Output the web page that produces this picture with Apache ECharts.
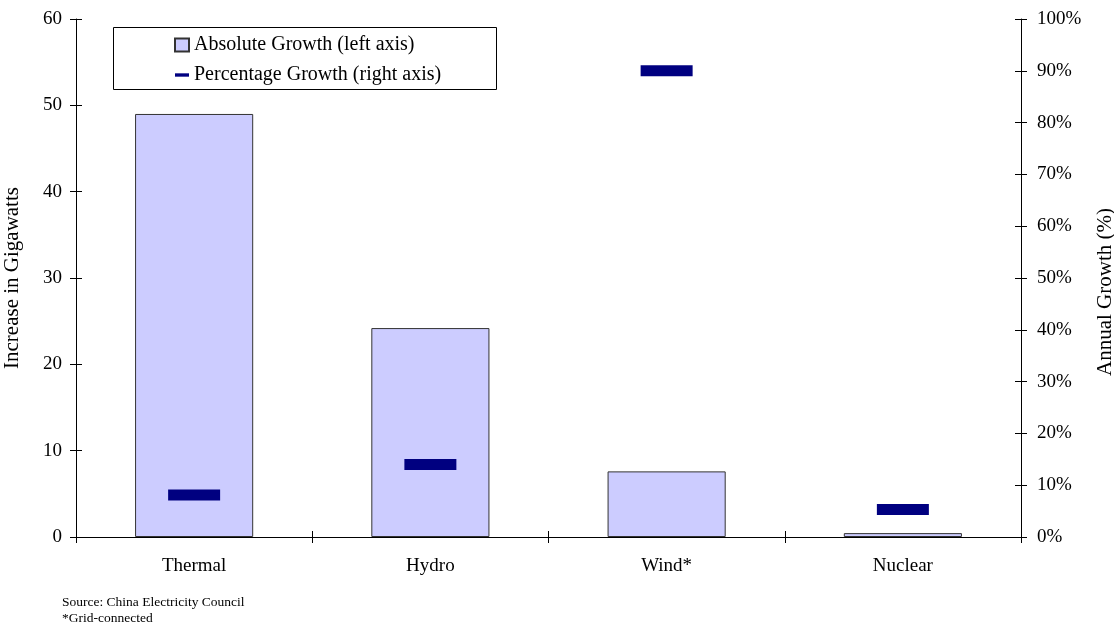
<!DOCTYPE html>
<html>
<head>
<meta charset="utf-8">
<script src="https://cdn.jsdelivr.net/npm/echarts@6/dist/echarts.min.js"></script>
<style>html,body{margin:0;padding:0;background:#fff;}#c{width:1114px;height:624px;}</style>
</head>
<body>
<div id="c"></div>
<script>
const categories = ['Thermal', 'Hydro', 'Wind*', 'Nuclear'];
const absoluteGrowth = [49.0, 24.2, 7.6, 0.45];
const percentageGrowth = [8.1, 14.0, 90.0, 5.3];
const leftTicks = { min: 0, max: 60, interval: 10 };
const rightTicks = { min: 0, max: 100, interval: 10 };
const seriesNames = ['Absolute Growth (left axis)', 'Percentage Growth (right axis)'];
const leftAxisTitle = 'Increase in Gigawatts';
const rightAxisTitle = 'Annual Growth (%)';
const notes = ['Source: China Electricity Council', '*Grid-connected'];

const FONT = '"Liberation Serif", "Times New Roman", serif';
const gridBox = { left: 76, right: 93, top: 19, bottom: 87, outerBoundsMode: 'none', containLabel: false };

const chart = echarts.init(document.getElementById('c'), null, { renderer: 'canvas' });
const axisLineStyle = { show: true, lineStyle: { color: '#000', width: 1 } };
const labelStyle = { color: '#000', fontFamily: FONT, fontSize: 19 };

chart.setOption({
  animation: false,
  backgroundColor: '#fff',
  textStyle: { fontFamily: FONT },
  grid: [Object.assign({}, gridBox), Object.assign({}, gridBox)],
  legend: {
    orient: 'vertical',
    left: 174,
    top: 35,
    padding: 0,
    itemGap: 10,
    itemWidth: 14,
    itemHeight: 13,
    textStyle: { color: '#000', fontFamily: FONT, fontSize: 20, lineHeight: 20 },
    data: [
      { name: seriesNames[0], icon: 'rect' },
      { name: seriesNames[1], icon: 'path://M0,0H15V3.6H0Z' }
    ]
  },
  xAxis: [
    {
      type: 'category', gridIndex: 0, data: categories, position: 'bottom',
      boundaryGap: true,
      axisLine: axisLineStyle,
      axisTick: { show: true, inside: false, length: 6, lineStyle: { color: '#000' } },
      axisLabel: Object.assign({ margin: 20 }, labelStyle),
      splitLine: { show: false }
    },
    {
      type: 'category', gridIndex: 1, data: categories, position: 'bottom',
      boundaryGap: true,
      axisLine: { show: false },
      axisTick: { show: true, inside: true, length: 6, lineStyle: { color: '#000' } },
      axisLabel: { show: false },
      splitLine: { show: false }
    }
  ],
  yAxis: [
    {
      type: 'value', gridIndex: 0, position: 'left',
      min: leftTicks.min, max: leftTicks.max, interval: leftTicks.interval,
      name: leftAxisTitle, nameLocation: 'middle', nameGap: 53,
      nameTextStyle: { color: '#000', fontFamily: FONT, fontSize: 21 },
      axisLine: axisLineStyle,
      axisTick: { show: true, inside: false, length: 6, lineStyle: { color: '#000' } },
      axisLabel: Object.assign({ margin: 14 }, labelStyle),
      splitLine: { show: false }
    },
    {
      type: 'value', gridIndex: 0, position: 'right',
      min: rightTicks.min, max: rightTicks.max, interval: rightTicks.interval,
      name: rightAxisTitle, nameLocation: 'middle', nameGap: 74, nameRotate: 90,
      nameTextStyle: { color: '#000', fontFamily: FONT, fontSize: 21, padding: [0, 28, 0, 0] },
      axisLine: axisLineStyle,
      axisTick: { show: true, inside: false, length: 6, lineStyle: { color: '#000' } },
      axisLabel: Object.assign({ margin: 16, formatter: '{value}%' }, labelStyle),
      splitLine: { show: false }
    },
    {
      type: 'value', gridIndex: 1, position: 'left',
      min: leftTicks.min, max: leftTicks.max, interval: leftTicks.interval,
      axisLine: { show: false },
      axisTick: { show: true, inside: true, length: 6, lineStyle: { color: '#000' } },
      axisLabel: { show: false }, splitLine: { show: false }
    },
    {
      type: 'value', gridIndex: 1, position: 'right',
      min: rightTicks.min, max: rightTicks.max, interval: rightTicks.interval,
      axisLine: { show: false },
      axisTick: { show: true, inside: true, length: 6, lineStyle: { color: '#000' } },
      axisLabel: { show: false }, splitLine: { show: false }
    }
  ],
  series: [
    {
      name: seriesNames[0], type: 'bar', xAxisIndex: 0, yAxisIndex: 0,
      data: absoluteGrowth, barWidth: '50%',
      itemStyle: { color: '#CCCCFF', borderColor: '#333333', borderWidth: 1 },
      z: 2
    },
    {
      name: seriesNames[1], type: 'scatter', xAxisIndex: 0, yAxisIndex: 1,
      data: percentageGrowth, symbol: 'rect', symbolSize: [52, 11],
      itemStyle: { color: '#000080', opacity: 1 },
      z: 3
    }
  ],
  graphic: [
    {
      type: 'rect', left: 113, top: 27, z: 1,
      shape: { width: 383, height: 62 },
      style: { fill: '#fff', stroke: '#000', lineWidth: 1 }
    },
    {
      type: 'text', left: 62, top: 595,
      style: { text: notes[0], fill: '#000', font: '13.5px ' + FONT }
    },
    {
      type: 'text', left: 62, top: 611,
      style: { text: notes[1], fill: '#000', font: '13.5px ' + FONT }
    }
  ]
});
</script>
</body>
</html>
